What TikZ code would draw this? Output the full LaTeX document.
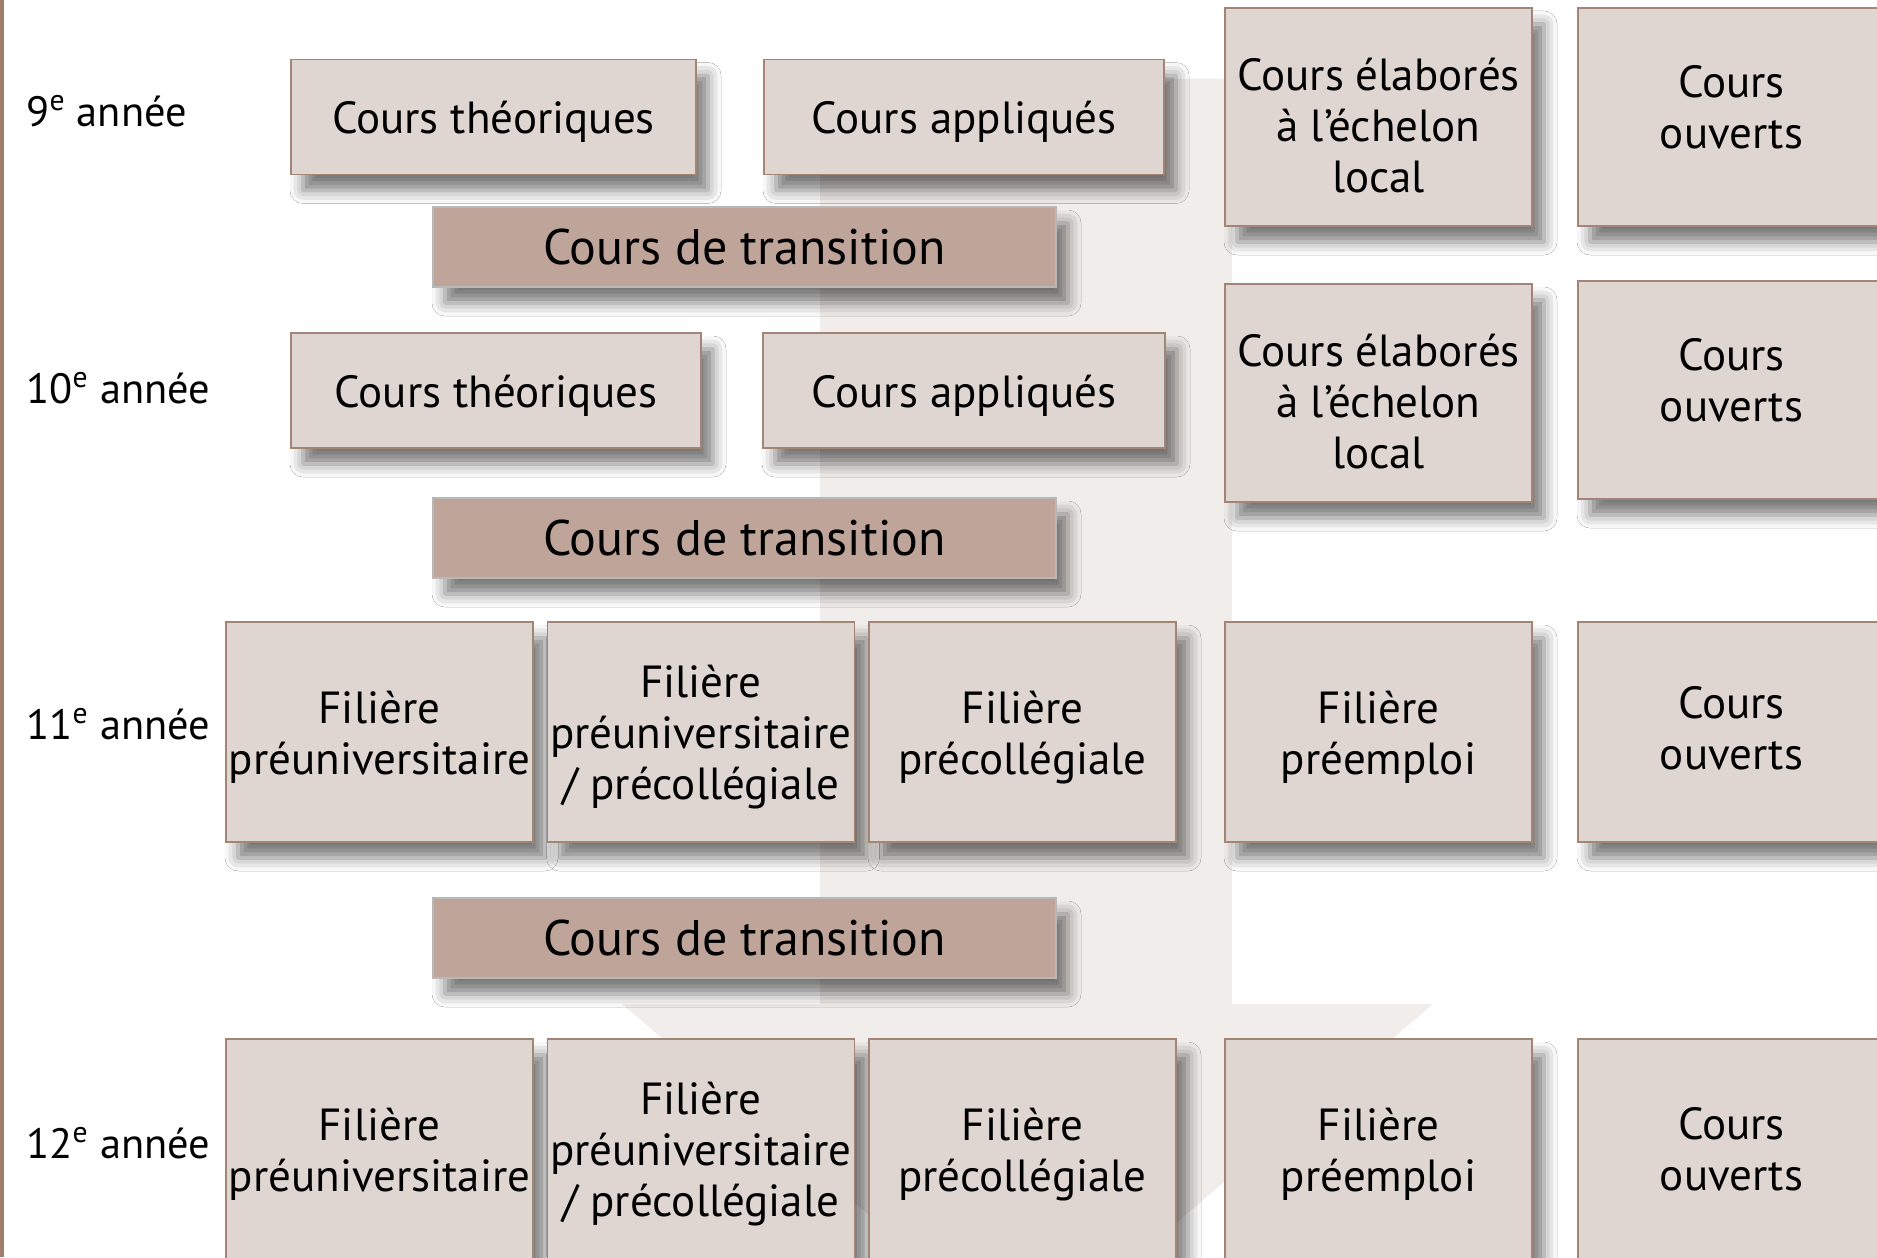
\documentclass[tikz,border=0pt]{standalone}
\usepackage{fontspec}
\setmainfont{PT Sans}
\usetikzlibrary{shadows.blur}

\definecolor{lignegauche}{RGB}{160,126,110}
\definecolor{fondfleche}{RGB}{241,237,234}
\definecolor{fondcours}{RGB}{224,214,209}
\definecolor{bordcours}{RGB}{163,133,118}
\definecolor{fondtransition}{RGB}{191,165,153}
\definecolor{bordtransition}{RGB}{184,184,184}

\newcommand\cale[1]{\rule{0pt}{#1}}
\newcommand\pied{\rule[-12pt]{0pt}{0pt}}

\begin{document}
\begin{tikzpicture}[x=0.5pt,y=-0.5pt,
  ombre/.style={blur shadow={shadow xshift=6pt,shadow yshift=-8pt,
    shadow blur radius=6.5pt,shadow opacity=52}},
  cours/.style={draw=bordcours,fill=fondcours,line width=0.7pt,inner sep=0pt,
    align=center,font=\fontsize{22.5}{25.5}\selectfont,ombre},
  large/.style={cours,minimum width=153.5pt,minimum height=109pt},
  bande/.style={cours,minimum height=57.5pt},
  transition/.style={draw=bordtransition,fill=fondtransition,line width=0.7pt,
    inner sep=0pt,minimum width=311.5pt,minimum height=40pt,
    font=\fontsize{25}{30}\selectfont,ombre},
  annee/.style={anchor=west,inner sep=0pt,font=\fontsize{21.2}{26}\selectfont}
]
\useasboundingbox (0,0) rectangle (1877,1257);
\fill[white] (0,0) rectangle (1877,1257);

\fill[fondfleche] (820,79) -- (1232,79) -- (1232,1004) -- (1433,1004)
  -- (1027,1350) -- (622,1004) -- (820,1004) -- cycle;
\fill[lignegauche] (0,0) rectangle (4,1257);

\node[annee] (an9) at (26,111) {9\textsuperscript{e} année};
\node[annee] (an10) at (26,388) {10\textsuperscript{e} année};
\node[annee] (an11) at (26,724) {11\textsuperscript{e} année};
\node[annee] (an12) at (26,1143) {12\textsuperscript{e} année};

\node[bande,minimum width=202.5pt] (theo9) at (493.5,117) {\cale{28.8pt}Cours théoriques\pied};
\node[bande,minimum width=200pt] (appl9) at (964,117) {\cale{28.8pt}Cours appliqués\pied};
\node[large] (elab9) at (1378.5,117) {\cale{36.3pt}Cours élaborés\\à l’échelon\\local\pied};
\node[large] (ouv9) at (1731.5,117) {\cale{18.4pt}Cours\\ouverts\pied};
\node[transition] (trans9) at (744.5,247) {Cours de transition};

\node[bande,minimum width=205pt] (theo10) at (496,390.5) {\cale{28.8pt}Cours théoriques\pied};
\node[bande,minimum width=201pt] (appl10) at (964,390.5) {\cale{28.8pt}Cours appliqués\pied};
\node[large] (elab10) at (1378.5,393) {\cale{36.3pt}Cours élaborés\\à l’échelon\\local\pied};
\node[large] (ouv10) at (1731.5,390) {\cale{18.4pt}Cours\\ouverts\pied};
\node[transition] (trans10) at (744.5,538) {Cours de transition};

\node[large,minimum height=110pt] (univ11) at (379.5,732) {\cale{28.8pt}Filière\\préuniversitaire\pied};
\node[large,minimum height=110pt] (mixte11) at (701,732) {\cale{28.8pt}Filière\\préuniversitaire\\/ précollégiale\pied};
\node[large,minimum height=110pt] (coll11) at (1022.5,732) {\cale{28.8pt}Filière\\précollégiale\pied};
\node[large,minimum height=110pt] (empl11) at (1378.5,732) {\cale{28.8pt}Filière\\préemploi\pied};
\node[large,minimum height=110pt] (ouv11) at (1731.5,732) {\cale{23.7pt}Cours\\ouverts\pied};
\node[transition] (trans11) at (744.5,938) {Cours de transition};

\node[large,minimum height=110pt] (univ12) at (379.5,1149) {\cale{28.8pt}Filière\\préuniversitaire\pied};
\node[large,minimum height=110pt] (mixte12) at (701,1149) {\cale{28.8pt}Filière\\préuniversitaire\\/ précollégiale\pied};
\node[large,minimum height=110pt] (coll12) at (1022.5,1149) {\cale{28.8pt}Filière\\précollégiale\pied};
\node[large,minimum height=110pt] (empl12) at (1378.5,1149) {\cale{28.8pt}Filière\\préemploi\pied};
\node[large,minimum height=110pt] (ouv12) at (1731.5,1149) {\cale{27.9pt}Cours\\ouverts\pied};
\end{tikzpicture}
\end{document}
